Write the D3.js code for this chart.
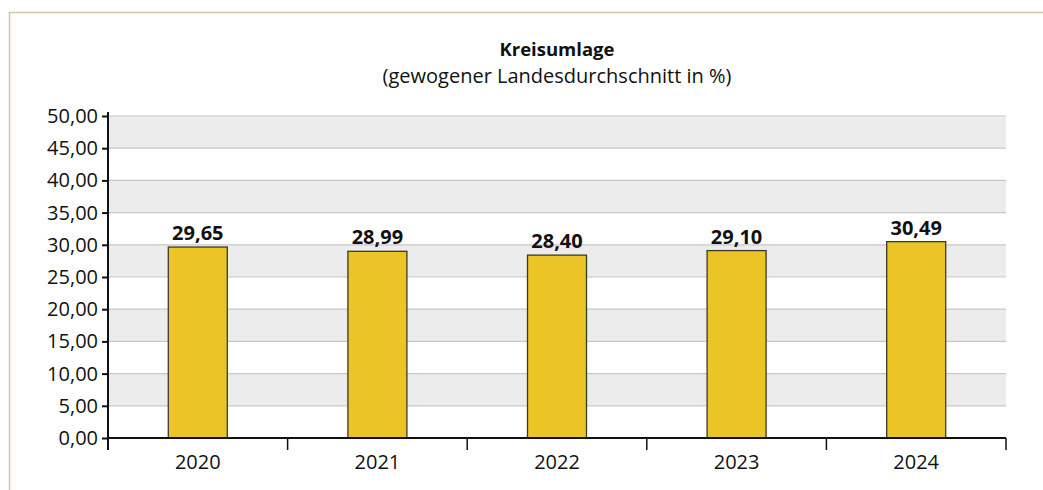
<!DOCTYPE html>
<html>
<head>
<meta charset="utf-8">
<script src="https://cdn.jsdelivr.net/npm/d3@7"></script>
<style>
  body { margin: 0; background: #fff; }
  svg { display: block; font-family: "Open Sans", "Noto Sans", sans-serif; }
</style>
</head>
<body>
<svg id="chart" width="1043" height="490"></svg>
<script>
// data
const years = ['2020', '2021', '2022', '2023', '2024'];
const values = [29.65, 28.99, 28.40, 29.10, 30.49];
const yTicks = [0, 5, 10, 15, 20, 25, 30, 35, 40, 45, 50];

const svg = d3.select('#chart');
const fmt = v => d3.format('.2f')(v).replace('.', ',');

const margin = { left: 108, right: 1006, top: 116, bottom: 438 };

var x = d3.scaleBand()
    .domain(years)
    .range([margin.left, margin.right]);

var y = d3.scaleLinear()
    .domain([0, 50])
    .range([margin.bottom, margin.top]);

// outer frame
svg.append('rect')
    .attr('x', 9.5)
    .attr('y', 12.5)
    .attr('width', 1100)
    .attr('height', 600)
    .attr('fill', 'none')
    .attr('stroke', '#cfc8a2')
    .attr('stroke-width', 1.5);

// grey bands
for (var i = 0; i < yTicks.length - 1; i++) {
    if (i % 2 === 1) {
        svg.append('rect')
            .attr('x', margin.left)
            .attr('y', y(yTicks[i + 1]))
            .attr('width', margin.right - margin.left)
            .attr('height', y(yTicks[i]) - y(yTicks[i + 1]))
            .attr('fill', '#ebeceb');
    }
}

// gridlines
svg.append('g')
    .selectAll('line')
    .data(yTicks.slice(1))
    .join('line')
    .attr('x1', margin.left)
    .attr('x2', margin.right)
    .attr('y1', d => y(d))
    .attr('y2', d => y(d))
    .attr('stroke', '#c8c8c8')
    .attr('stroke-width', 1.2);

// bars
svg.append('g')
    .selectAll('rect')
    .data(values)
    .join('rect')
    .attr('x', (d, i) => x(years[i]) + x.bandwidth() / 2 - 29.5)
    .attr('y', d => y(d))
    .attr('width', 59)
    .attr('height', d => y(0) - y(d))
    .attr('fill', '#ebc526')
    .attr('stroke', '#3a3a2a')
    .attr('stroke-width', 1.3);

// value labels
svg.append('g')
    .selectAll('text')
    .data(values)
    .join('text')
    .attr('x', (d, i) => x(years[i]) + x.bandwidth() / 2)
    .attr('y', d => y(d) - 7)
    .attr('text-anchor', 'middle')
    .attr('font-size', 20)
    .attr('font-weight', 'bold')
    .attr('fill', '#111')
    .text(d => fmt(d));

// y axis
var yAxis = svg.append('g')
    .attr('transform', 'translate(' + margin.left + ',0)')
    .call(d3.axisLeft(y).tickValues(yTicks).tickSize(6).tickSizeOuter(0).tickFormat(fmt));
yAxis.select('.domain').remove();
yAxis.selectAll('line').attr('stroke', '#111').attr('stroke-width', 2);
yAxis.selectAll('text')
    .attr('font-size', 20)
    .attr('fill', '#111')
    .attr('font-family', '"Open Sans", "Noto Sans", sans-serif')
    .attr('x', -10);
svg.append('line')
    .attr('x1', margin.left).attr('x2', margin.left)
    .attr('y1', margin.top - 4).attr('y2', margin.bottom + 12)
    .attr('stroke', '#111').attr('stroke-width', 2);

// x axis
svg.append('line')
    .attr('x1', margin.left).attr('x2', margin.right)
    .attr('y1', margin.bottom).attr('y2', margin.bottom)
    .attr('stroke', '#111').attr('stroke-width', 2);
svg.append('g')
    .selectAll('line')
    .data(years.slice(1).concat(['end']))
    .join('line')
    .attr('x1', d => d === 'end' ? margin.right : x(d))
    .attr('x2', d => d === 'end' ? margin.right : x(d))
    .attr('y1', margin.bottom)
    .attr('y2', margin.bottom + 12)
    .attr('stroke', '#111')
    .attr('stroke-width', 1.5);
svg.append('g')
    .selectAll('text')
    .data(years)
    .join('text')
    .attr('x', d => x(d) + x.bandwidth() / 2)
    .attr('y', margin.bottom + 31)
    .attr('text-anchor', 'middle')
    .attr('font-size', 20)
    .attr('fill', '#111')
    .text(d => d);

// title
svg.append('text')
    .attr('x', 557).attr('y', 56)
    .attr('text-anchor', 'middle')
    .attr('font-size', 18.5)
    .attr('font-weight', 'bold')
    .attr('fill', '#111')
    .text('Kreisumlage');
svg.append('text')
    .attr('x', 557).attr('y', 83)
    .attr('text-anchor', 'middle')
    .attr('font-size', 20)
    .attr('fill', '#111')
    .text('(gewogener Landesdurchschnitt in %)');
</script>
</body>
</html>
